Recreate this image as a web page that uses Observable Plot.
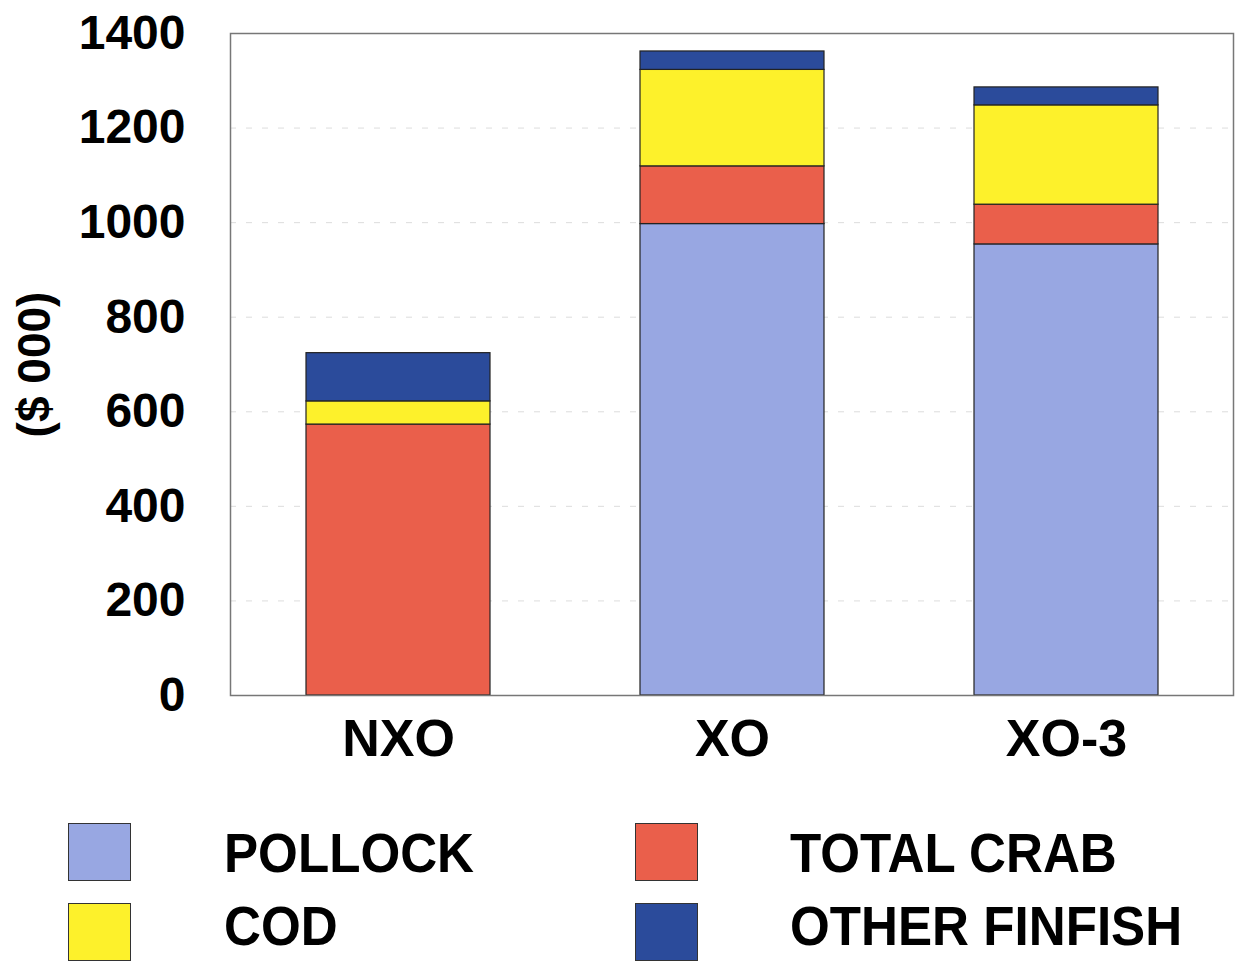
<!DOCTYPE html>
<html>
<head>
<meta charset="utf-8">
<script src="https://cdn.jsdelivr.net/npm/d3@7"></script>
<script src="https://cdn.jsdelivr.net/npm/@observablehq/plot@0.6"></script>
<style>
  html, body { margin: 0; padding: 0; background: #fff; }
  body { width: 1235px; height: 961px; overflow: hidden; font-family: "Liberation Sans", Arial, sans-serif; }
  #chart svg { display: block; }
  #legend { position: relative; height: 161px; }
  .sw { width: 63px; height: 58px; border: 1px solid #333; box-sizing: border-box; }
  .lab { position: absolute; font-weight: bold; font-size: 55px; color: #000; white-space: nowrap; transform: scaleX(0.93); transform-origin: left center; line-height: 0.8; }
</style>
</head>
<body>
<div id="chart"></div>
<div id="legend"></div>
<script>
const categories = ["NXO", "XO", "XO-3"];
const species = ["POLLOCK", "TOTAL CRAB", "COD", "OTHER FINFISH"];
const pollock = [0, 997, 954];
const totalCrab = [573, 122, 84];
const cod = [49, 204, 210];
const otherFinfish = [102, 39, 38];
const colors = ["#98a7e2", "#ea5f4b", "#fdf12b", "#2b4b9b"];
const yTicks = [0, 200, 400, 600, 800, 1000, 1200, 1400];

const seriesValues = [pollock, totalCrab, cod, otherFinfish];
const data = [];
species.forEach((s, si) => {
  categories.forEach((c, ci) => {
    data.push({category: c, species: s, value: seriesValues[si][ci]});
  });
});

const plot = Plot.plot({
  width: 1235,
  height: 800,
  marginLeft: 230,
  marginRight: 2,
  marginTop: 33,
  marginBottom: 105,
  style: {fontFamily: "'Liberation Sans', Arial, sans-serif", background: "#fff"},
  x: {domain: categories, paddingInner: 0.45, paddingOuter: 0.225},
  y: {domain: [0, 1400]},
  color: {domain: species, range: colors},
  marks: [
    Plot.gridY(yTicks, {stroke: "#bbb", strokeOpacity: 0.5, strokeDasharray: "6,10"}),
    Plot.barY(data, Plot.stackY({order: species, x: "category", y: "value", fill: "species", stroke: "#222", strokeWidth: 1.2})),
    Plot.frame({stroke: "#777", strokeWidth: 1.5}),
    Plot.axisY(yTicks, {tickSize: 0, tickPadding: 45, fontSize: 48, fontWeight: "bold", fill: "#000", label: null, tickFormat: d => String(d)}),
    Plot.axisX({tickSize: 0, tickPadding: 24, fontSize: 52, fontWeight: "bold", fill: "#000", label: null}),
    Plot.text(["($ 000)"], {frameAnchor: "left", textAnchor: "middle", dx: -195, rotate: -90, fontSize: 46, fontWeight: "bold", fill: "#000"})
  ]
});
document.getElementById("chart").appendChild(plot);

// legend
const legend = document.getElementById("legend");
const pos = [
  {sx: 68, tx: 224, y: 23, ty: 31},
  {sx: 635, tx: 790, y: 23, ty: 31},
  {sx: 68, tx: 224, y: 103, ty: 104},
  {sx: 635, tx: 790, y: 103, ty: 104}
];
species.forEach((s, i) => {
  const p = pos[i];
  const sw = document.createElement("div");
  sw.className = "sw";
  sw.style.position = "absolute";
  sw.style.left = p.sx + "px";
  sw.style.top = p.y + "px";
  sw.style.background = colors[i];
  legend.appendChild(sw);
  const lab = document.createElement("div");
  lab.className = "lab";
  lab.style.left = p.tx + "px";
  lab.style.top = p.ty + "px";
  lab.textContent = s;
  legend.appendChild(lab);
});
</script>
</body>
</html>
